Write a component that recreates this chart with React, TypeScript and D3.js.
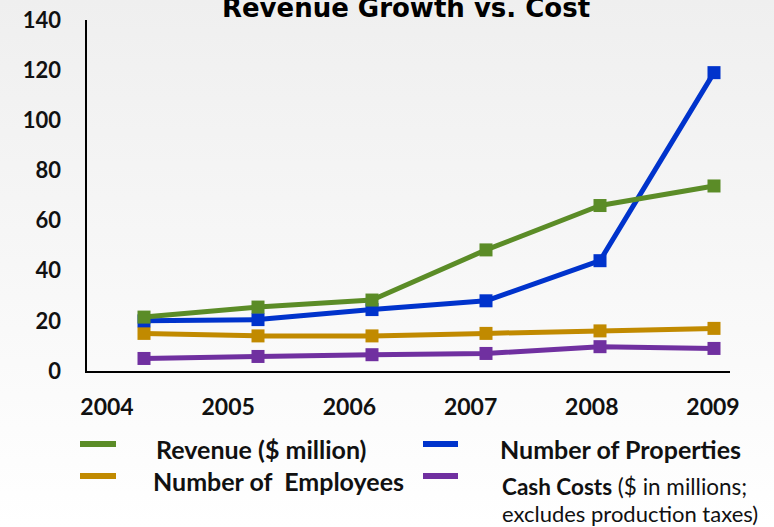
import React from "react";
import * as d3 from "d3";

const years = ["2004", "2005", "2006", "2007", "2008", "2009"];
const revenue = [21.5, 25.5, 28.3, 48.3, 66, 73.8];
const properties = [20, 20.5, 24.5, 28, 44, 119];
const employees = [15, 14, 14, 15, 16, 17];
const cashCosts = [5, 5.8, 6.5, 7, 9.7, 9];
const yTicks = [0, 20, 40, 60, 80, 100, 120, 140];

const W = 774;
const H = 527;
const FONT = "Lato, 'Open Sans', sans-serif";

const seriesList = [
  { name: "Revenue", values: revenue, color: "#5b8c27" },
  { name: "Properties", values: properties, color: "#0033cc" },
  { name: "Employees", values: employees, color: "#c18a00" },
  { name: "Cash", values: cashCosts, color: "#7030a0" },
];
const drawOrder = ["Employees", "Cash", "Properties", "Revenue"];

export default function App() {
  const x = d3.scalePoint<string>().domain(years).range([144, 714]);
  const xLabel = d3.scalePoint<string>().domain(years).range([107, 713]);
  const y = d3.scaleLinear().domain([0, 140]).range([371, 20]);
  const line = d3
    .line<number>()
    .x((_, i) => x(years[i]) as number)
    .y((d) => y(d));
  const ms = 13;

  const ordered = drawOrder.map((n) => seriesList.find((s) => s.name === n)!);

  return (
    <svg
      width={W}
      height={H}
      style={{ position: "absolute", left: 0, top: 0 }}
      fontFamily={FONT}
    >
      <defs>
        <linearGradient id="bg" x1="0" y1="0" x2="0" y2="1">
          <stop offset="0" stopColor="#efefef" />
          <stop offset="1" stopColor="#ffffff" />
        </linearGradient>
      </defs>
      <rect x={0} y={0} width={W} height={H} fill="url(#bg)" />
      <text
        x={406}
        y={17}
        textAnchor="middle"
        fontFamily="'DejaVu Sans', Verdana, sans-serif"
        fontWeight="bold"
        fontSize={26}
        fill="#000"
      >
        Revenue Growth vs. Cost
      </text>
      {yTicks.map((t) => (
        <text
          key={t}
          x={61}
          y={y(t)}
          dy="0.35em"
          textAnchor="end"
          fontWeight="bold"
          fontSize={22}
          fill="#111"
        >
          {t}
        </text>
      ))}
      {years.map((yr) => (
        <text
          key={yr}
          x={xLabel(yr)}
          y={407}
          dy="0.35em"
          textAnchor="middle"
          fontWeight="bold"
          fontSize={23}
          fill="#111"
        >
          {yr}
        </text>
      ))}
      <line x1={86} y1={20} x2={86} y2={372} stroke="#000" strokeWidth={2} />
      <line x1={85} y1={372} x2={730} y2={372} stroke="#000" strokeWidth={2} />
      {ordered.map((s) => (
        <g key={s.name}>
          <path
            d={line(s.values) || ""}
            fill="none"
            stroke={s.color}
            strokeWidth={5}
            strokeLinejoin="round"
          />
          {s.values.map((v, i) => (
            <rect
              key={i}
              x={(x(years[i]) as number) - ms / 2}
              y={y(v) - ms / 2}
              width={ms}
              height={ms}
              fill={s.color}
            />
          ))}
        </g>
      ))}
      {/* legend */}
      <rect x={80} y={441} width={36} height={6} fill="#5b8c27" />
      <rect x={80} y={473} width={36} height={6} fill="#c18a00" />
      <rect x={423} y={441} width={35} height={6} fill="#0033cc" />
      <rect x={423} y={473} width={35} height={6} fill="#7030a0" />
      <text x={156} y={450} dy="0.35em" fontWeight="bold" fontSize={25} fill="#111">
        Revenue ($ million)
      </text>
      <text x={153} y={482} dy="0.35em" fontWeight="bold" fontSize={25} fill="#111">
        Number of{"\u00a0\u00a0"}Employees
      </text>
      <text x={500} y={450} dy="0.35em" fontWeight="bold" fontSize={25} fill="#111">
        Number of Properties
      </text>
      <text x={502} y={487} dy="0.35em" fontSize={22.5} fill="#111">
        <tspan fontWeight="bold">Cash Costs</tspan> ($ in millions;
      </text>
      <text x={502} y={514} dy="0.35em" fontSize={22} fill="#111">
        excludes production taxes)
      </text>
    </svg>
  );
}
